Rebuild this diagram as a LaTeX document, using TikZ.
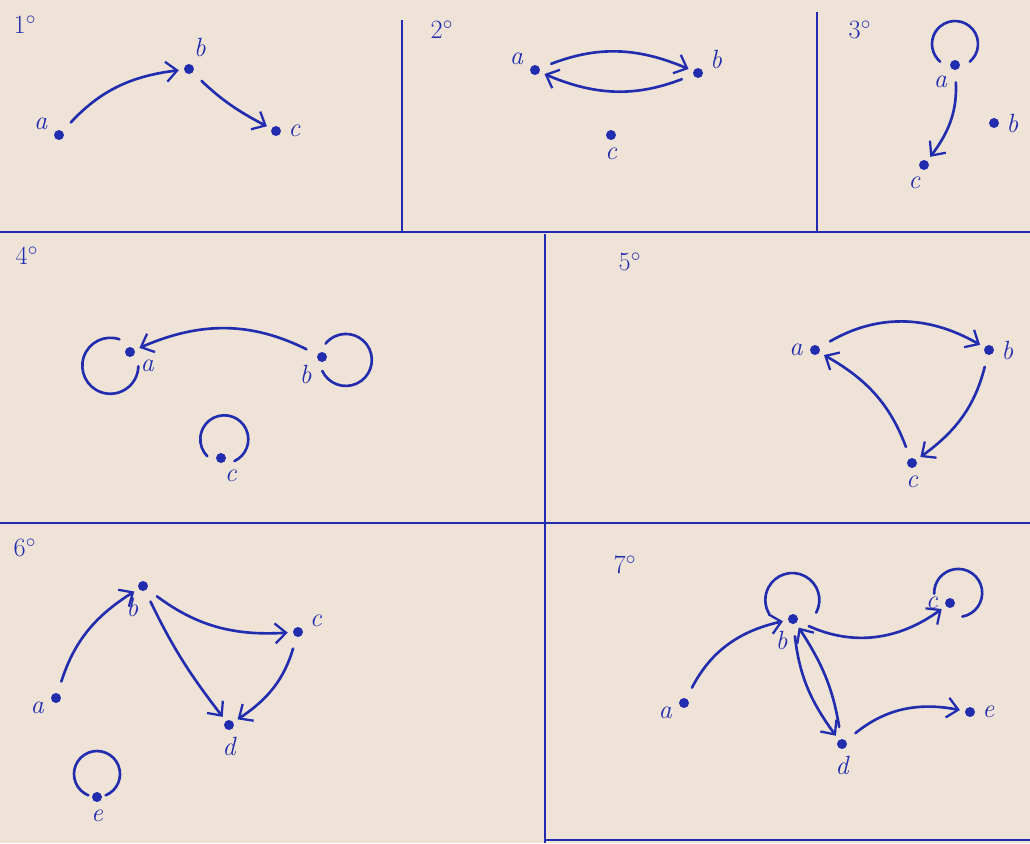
\documentclass[tikz,border=0pt]{standalone}
\usetikzlibrary{arrows.meta}
\definecolor{paper}{RGB}{238,227,214}
\definecolor{ink}{RGB}{34,44,175}
\begin{document}
\begin{tikzpicture}[x=0.02cm, y=0.02cm,
  font=\fontsize{15}{17}\selectfont\itshape,
  vtx/.style={circle, fill=ink, draw=none, inner sep=0pt,
              minimum size=0.2cm, outer sep=3pt},
  lbl/.style={text=ink, inner sep=1pt},
  num/.style={text=ink, font=\fontsize{15}{17}\selectfont},
  link/.style={draw=ink, line width=1.5pt, line cap=round, shorten <=4pt,
               -{Straight Barb[length=2.2mm, width=4mm, line width=1.3pt]}},
  ring/.style={draw=ink, line width=1.5pt, line cap=round},
  frame/.style={draw=ink, line width=1.3pt}
]
  \useasboundingbox (0,0) rectangle (1030,-843);
  % paper
  \fill[paper] (0,0) rectangle (1030,-843);
  % frames
  \draw[frame] (402,-20) -- (402,-232);
  \draw[frame] (817,-12) -- (817,-232);
  \draw[frame] (0,-232) -- (1030,-232);
  \draw[frame] (545,-234) -- (545,-843);
  \draw[frame] (0,-523) -- (1030,-523);
  \draw[frame] (545,-840) -- (1030,-840);

  % 1
  \node[num] (n1) at (25,-25) {1$^\circ$};
  \node[vtx, label={[lbl]160:a}] (a1) at (59,-135) {};
  \node[vtx, label={[lbl]75:b}]  (b1) at (189,-69) {};
  \node[vtx, label={[lbl]0:c}]   (c1) at (276,-131) {};
  \draw[link] (a1) to[bend left=20] (b1);
  \draw[link] (b1) to[bend right=8] (c1);

  % 2
  \node[num] (n2) at (442,-30) {2$^\circ$};
  \node[vtx, label={[lbl]165:a}] (a2) at (535,-70) {};
  \node[vtx, label={[lbl]10:b}]  (b2) at (698,-73) {};
  \node[vtx, label={[lbl]270:c}] (c2) at (611,-135) {};
  \draw[link] (a2) to[bend left=22] (b2);
  \draw[link] (b2) to[bend left=22] (a2);

  % 3
  \node[num] (n3) at (860,-30) {3$^\circ$};
  \node[vtx, label={[lbl]235:a}] (a3) at (955,-65) {};
  \node[vtx, label={[lbl]0:b}]   (b3) at (994,-123) {};
  \node[vtx, label={[lbl]260:c}] (c3) at (924,-165) {};
  \draw[ring] (a3) ++(90:21) ++(310:23) arc[start angle=310, delta angle=280, radius=23];
  \draw[link] (a3) to[bend left=20] (c3);

  % 4
  \node[num] (n4) at (27,-256) {4$^\circ$};
  \node[vtx, label={[lbl]-35:a}] (a4) at (130,-352) {};
  \node[vtx, label={[lbl]215:b}] (b4) at (322,-357) {};
  \node[vtx, label={[lbl]280:c}] (c4) at (221,-458) {};
  \draw[ring] (a4) ++(215:24) ++(71:28) arc[start angle=71, delta angle=288, radius=28];
  \draw[ring] (b4) ++(353:24) ++(205:26) arc[start angle=205, delta angle=296, radius=26];
  \draw[ring] (c4) ++(80:19) ++(295:24) arc[start angle=295, delta angle=290, radius=24];
  \draw[link] (b4) to[bend right=25] (a4);

  % 5
  \node[num] (n5) at (630,-262) {5$^\circ$};
  \node[vtx, label={[lbl]180:a}] (a5) at (815,-350) {};
  \node[vtx, label={[lbl]0:b}]   (b5) at (989,-350) {};
  \node[vtx, label={[lbl]270:c}] (c5) at (912,-463) {};
  \draw[link] (a5) to[bend left=30] (b5);
  \draw[link] (b5) to[bend left=20] (c5);
  \draw[link] (c5) to[bend right=20] (a5);

  % 6
  \node[num] (n6) at (25,-548) {6$^\circ$};
  \node[vtx, label={[lbl]190:a}] (a6) at (56,-698) {};
  \node[vtx, label={[lbl]255:b}] (b6) at (143,-586) {};
  \node[vtx, label={[lbl]20:c}]  (c6) at (298,-632) {};
  \node[vtx, label={[lbl]270:d}] (d6) at (229,-725) {};
  \node[vtx, label={[lbl]270:e}] (e6) at (97,-797) {};
  \draw[ring] (e6) ++(90:23) ++(292:23) arc[start angle=292, delta angle=316, radius=23];
  \draw[link] (a6) to[bend left=20] (b6);
  \draw[link] (b6) to[bend right=20] (c6);
  \draw[link] (b6) to[bend right=6] (d6);
  \draw[link] (c6) to[bend left=20] (d6);

  % 7
  \node[num] (n7) at (625,-565) {7$^\circ$};
  \node[vtx, label={[lbl]190:a}] (a7) at (684,-703) {};
  \node[vtx, label={[lbl]250:b}] (b7) at (793,-619) {};
  \node[vtx, label={[lbl]178:c}] (c7) at (950,-603) {};
  \node[vtx, label={[lbl]270:d}] (d7) at (842,-744) {};
  \node[vtx, label={[lbl]0:e}]   (e7) at (970,-712) {};
  \draw[ring] (b7) ++(92:19) ++(332:27) arc[start angle=332, delta angle=240, radius=27];
  \draw[ring] (c7) ++(51:13) ++(280:24) arc[start angle=280, delta angle=262, radius=24];
  \draw[link] (a7) to[bend left=25] (b7);
  \draw[link] (b7) to[bend right=30] (c7);
  \draw[link] (b7) to[bend right=15] (d7);
  \draw[link] (d7) to[bend right=12] (b7);
  \draw[link] (d7) to[bend left=25] (e7);
\end{tikzpicture}
\end{document}
